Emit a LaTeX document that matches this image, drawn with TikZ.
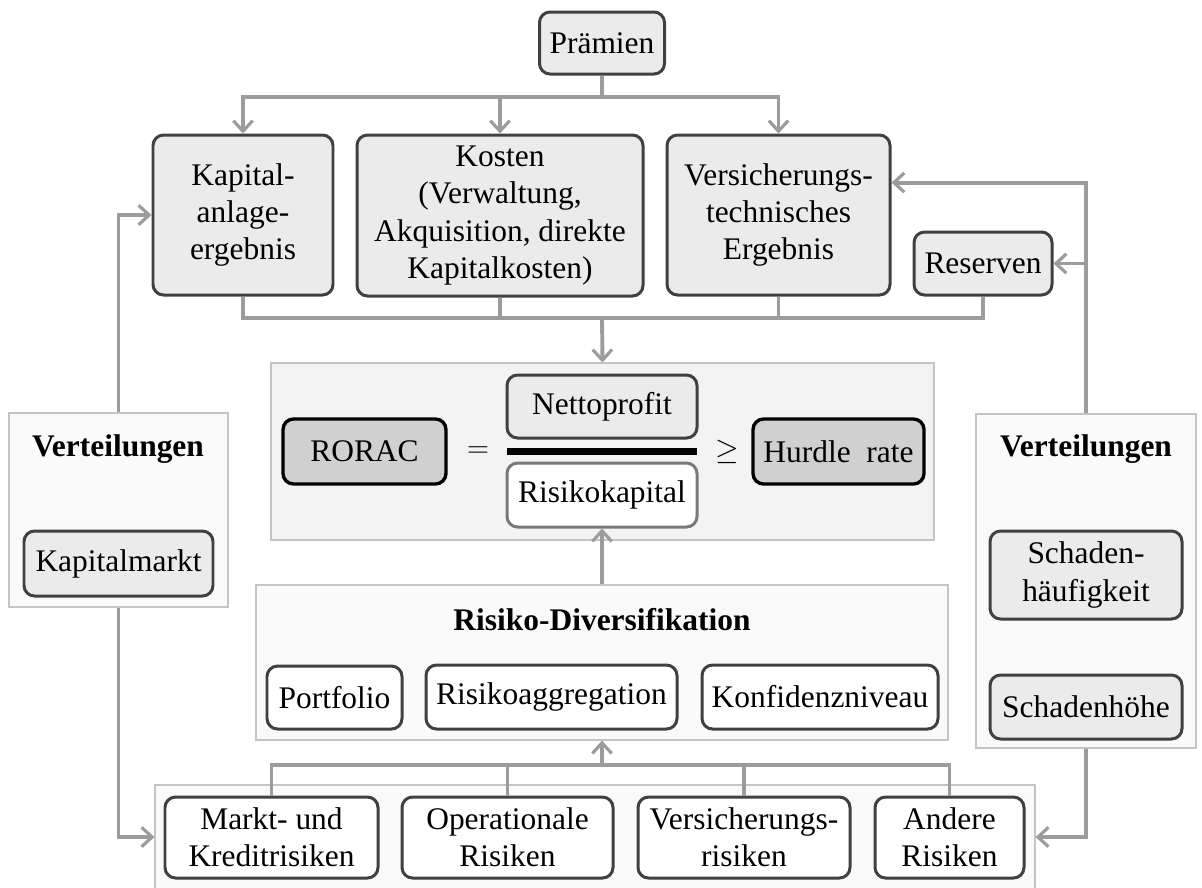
\documentclass[tikz,border=0pt]{standalone}
\usepackage{fontspec}
\setmainfont{Liberation Serif}
\usetikzlibrary{arrows.meta,calc}
\definecolor{boxfill}{HTML}{EBEBEB}
\definecolor{darkfill}{HTML}{D0D0D0}
\definecolor{boxline}{HTML}{404040}
\definecolor{panelfill}{HTML}{FAFAFA}
\definecolor{rorfill}{HTML}{F3F3F3}
\definecolor{panelline}{HTML}{C4C4C4}
\definecolor{connc}{HTML}{9C9C9C}
\begin{document}
\begin{tikzpicture}[x=0.02cm,y=-0.02cm,
  txt/.style={font=\fontsize{17.9}{21.3}\selectfont},
  sz/.style 2 args={minimum width=#1*0.02cm, minimum height=#2*0.02cm},
  box/.style={txt, draw=boxline, fill=boxfill, line width=1.7pt, rounded corners=6pt, align=center, inner sep=0pt},
  darkbox/.style={box, fill=darkfill, draw=black, line width=1.9pt},
  panel/.style={draw=panelline, fill=panelfill, line width=0.6pt, inner sep=0pt},
  title/.style={txt, font=\fontsize{17.9}{21.3}\selectfont\bfseries},
  conn/.style={draw=connc, line width=2.2pt},
  arr/.style={conn, -{Straight Barb[length=6pt,width=11pt,line width=1.8pt]}},
]
\useasboundingbox (0,0) rectangle (1202,887);
\clip (0,0) rectangle (1202,887);

% panels
\node[panel, fill=rorfill, sz={663}{177}] (rorpanel) at (602.5,451.5) {};
\node[panel, sz={692}{155}] (divpanel) at (602,662.5) {};
\node[panel, sz={880}{104}] (botpanel) at (595,837) {};
\node[panel, sz={219}{194}] (lv) at (118.5,510) {};
\node[panel, sz={220}{334}] (rv) at (1086,581) {};

% top row
\node[box, sz={125}{62}] (prem) at (602,43) {Prämien};
\node[box, sz={180}{160}] (kap) at (243,215) {Kapital-\\anlage-\\ergebnis};
\node[box, sz={286}{161}] (kos) at (500,215.5) {Kosten\\(Verwaltung,\\Akquisition, direkte\\Kapitalkosten)};
\node[box, sz={223}{160}] (vt) at (778.5,215) {Versicherungs-\\technisches\\Ergebnis};
\node[box, sz={138}{63}] (res) at (983,263.5) {Reserven};

% RORAC
\node[darkbox, sz={163}{65}] (rorac) at (364.5,451.5) {RORAC};
\node[txt] (eq) at (478,452) {$=$};
\node[box, sz={190}{63}] (net) at (602,406.5) {Nettoprofit};
\node[fill=black, inner sep=0pt, sz={190}{7}] (bar) at (602,451.5) {};
\node[box, fill=white, draw=boxline!70, sz={190}{64}] (risk) at (602,495) {Risikokapital};
\node[txt] (geq) at (727,452) {$\geq$};
\node[darkbox, sz={171}{65}] (hurdle) at (838.5,451.5) {Hurdle\ \ rate};

% diversification
\node[title] (divt) at (602,620) {Risiko-Diversifikation};
\node[box, fill=white, sz={135}{63}] (port) at (334.5,697.5) {Portfolio};
\node[box, fill=white, sz={251}{64}] (agg) at (551.5,697) {Risikoaggregation};
\node[box, fill=white, sz={236}{64}] (konf) at (820,697) {Konfidenzniveau};

% bottom risks
\node[box, fill=white, sz={213}{81}] (mk) at (271.5,837.5) {Markt- und\\Kreditrisiken};
\node[box, fill=white, sz={211}{81}] (op) at (507.5,837.5) {Operationale\\Risiken};
\node[box, fill=white, sz={212}{81}] (vr) at (744,837.5) {Versicherungs-\\risiken};
\node[box, fill=white, sz={149}{81}] (an) at (949.5,837.5) {Andere\\Risiken};

% distributions
\node[title] (lvt) at (118,449) {Verteilungen};
\node[box, sz={189}{65}] (kmk) at (118.5,563.5) {Kapitalmarkt};
\node[title] (rvt) at (1086,449) {Verteilungen};
\node[box, sz={192}{88}] (sh) at (1086,575) {Schaden-\\häufigkeit};
\node[box, sz={192}{64}] (shh) at (1086,707) {Schadenhöhe};

% connectors top
\coordinate (topbus) at (602,97);
\draw[conn] (prem.south) -- (topbus);
\draw[arr] (topbus) -| (kap.north);
\draw[arr] (topbus) -| (vt.north);
\draw[arr] (kos.north |- topbus) -- (kos.north);

\coordinate (midbus) at (602,318);
\draw[conn] (kap.south) |- (res.south |- midbus) -- (res.south);
\draw[conn] (kos.south) -- (kos.south |- midbus);
\draw[conn] (vt.south) -- (vt.south |- midbus);
\draw[arr] (midbus) -- (rorpanel.north);

\draw[arr] (divpanel.north) -- (risk.south);

\coordinate (lowbus) at (602,765);
\draw[conn] (mk.north) |- (an.north |- lowbus) -- (an.north);
\draw[conn] (op.north) -- (op.north |- lowbus);
\draw[conn] (vr.north) -- (vr.north |- lowbus);
\draw[arr] (lowbus) -- (divpanel.south);

% side connectors
\draw[arr] (lv.north) |- (kap.west);
\draw[arr] (lv.south) |- (botpanel.west);
\draw[arr] (rv.north) |- (vt.16.5);
\draw[arr] (rv.north |- res.east) -- (res.east);
\draw[arr] (rv.south) |- (botpanel.east);
\end{tikzpicture}
\end{document}
